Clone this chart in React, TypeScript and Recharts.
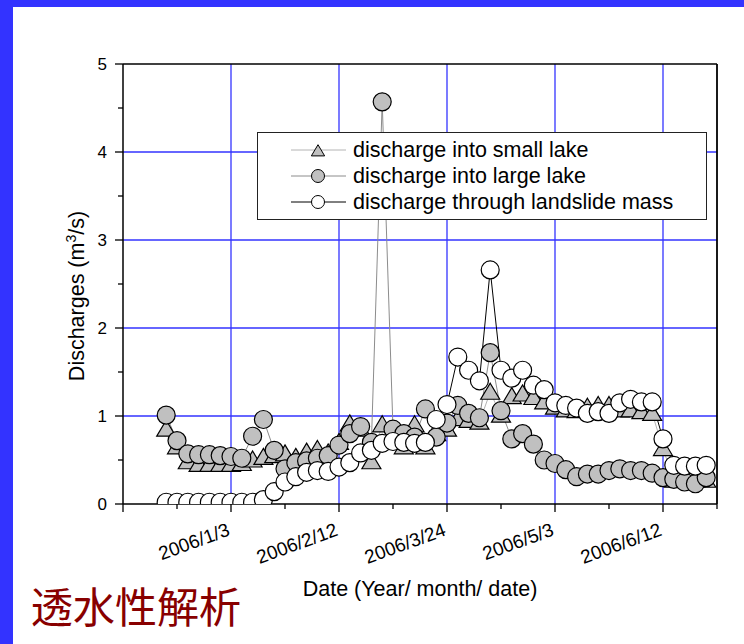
import { LineChart, Line, XAxis, YAxis, ReferenceLine, Legend } from "recharts";

const FONT = '"Liberation Sans", Arial, sans-serif';
const FRAME_BLUE = "#3333ff";
const GRID_BLUE = "#3333ff";
const MARKER_GRAY = "#c0c0c0";

// days counted from 2005/11/24 (x axis origin), one reading every 4 days
const days = [
  16, 20, 24, 28, 32, 36, 40, 44, 48, 52, 56, 60, 64, 68, 72, 76, 80, 84, 88, 92,
  96, 100, 104, 108, 112, 116, 120, 124, 128, 132, 136, 140, 144, 148, 152, 156,
  160, 164, 168, 172, 176, 180, 184, 188, 192, 196, 200, 204, 208, 212, 216,
];

const smallLake = [
  0.85, 0.65, 0.48, 0.45, 0.45, 0.45, 0.45, 0.46, 0.5, 0.53, 0.55, 0.57, 0.53, 0.59, 0.62, 0.58, 0.7, 0.91, 0.85, 0.48,
  0.9, 0.78, 0.65, 0.9, 0.65, 0.8, 0.85, 0.97, 0.95, 0.93, 1.27, 1.01, 1.22, 1.25, 1.21, 1.16,
  1.1, 1.07, 1.06, 1.1, 1.12, 1.12, 1.07, 1.07, 1.05, 1.03, 0.63, 0.27, 0.27, 0.27, 0.27,
];

const largeLake = [
  1.01, 0.72, 0.57, 0.56, 0.56, 0.55, 0.54, 0.52, 0.77, 0.96, 0.61, 0.4, 0.47, 0.49, 0.52, 0.55, 0.67, 0.8, 0.88, 0.7,
  4.57, 0.85, 0.8, 0.76, 1.08, 0.76, 0.92, 1.12, 1.03, 0.98, 1.72, 1.06, 0.74, 0.8, 0.68, 0.5,
  0.46, 0.39, 0.31, 0.34, 0.34, 0.38, 0.4, 0.38, 0.38, 0.35, 0.3, 0.28, 0.25, 0.23, 0.3,
];

const throughMass = [
  0.02, 0.02, 0.02, 0.02, 0.02, 0.02, 0.02, 0.02, 0.02, 0.05, 0.14, 0.25, 0.31, 0.36, 0.38, 0.37, 0.42, 0.47, 0.58, 0.61,
  0.69, 0.71, 0.7, 0.69, 0.7, 0.96, 1.13, 1.67, 1.52, 1.4, 2.66, 1.52, 1.43, 1.52, 1.35, 1.3,
  1.15, 1.12, 1.09, 1.03, 1.05, 1.03, 1.15, 1.19, 1.16, 1.16, 0.74, 0.44, 0.43, 0.43, 0.44,
];

const xTicks = [0, 20, 40, 60, 80, 100, 120, 140, 160, 180, 200, 220];
const xTickLabels: Record<number, string> = {
  40: "2006/1/3",
  80: "2006/2/12",
  120: "2006/3/24",
  160: "2006/5/3",
  200: "2006/6/12",
};
const xGrid = [40, 80, 120, 160, 200];
const yTicks = [0, 0.5, 1, 1.5, 2, 2.5, 3, 3.5, 4, 4.5, 5];
const yGrid = [1, 2, 3, 4];

const data = days.map((d, i) => ({
  d,
  small: smallLake[i],
  large: largeLake[i],
  mass: throughMass[i],
}));

const series = [
  { key: "small", name: "discharge into small lake", line: "#b4b4b4", shape: "tri", fill: MARKER_GRAY },
  { key: "large", name: "discharge into large lake", line: "#8c8c8c", shape: "circle", fill: MARKER_GRAY },
  { key: "mass", name: "discharge through landslide mass", line: "#000000", shape: "circle", fill: "#ffffff" },
];

function triPoints(cx: number, cy: number, s: number) {
  return `${cx},${cy - 9 * s} ${cx + 9.5 * s},${cy + 7 * s} ${cx - 9.5 * s},${cy + 7 * s}`;
}

const makeDot = (shape: string, fill: string) => (props: any) => {
  const { cx, cy, index } = props;
  if (cx == null || cy == null) return <g key={`e-${index}`} />;
  if (shape === "tri") {
    return <polygon key={`t-${index}`} points={triPoints(cx, cy, 1)} fill={fill} stroke="#000" strokeWidth={1.2} />;
  }
  return <circle key={`c-${index}`} cx={cx} cy={cy} r={9} fill={fill} stroke="#000" strokeWidth={1.2} />;
};

const Y_GAP = 16;
function YTick(props: any) {
  const { x, y, payload } = props;
  const v = payload.value;
  const major = Number.isInteger(v);
  const ax = x + Y_GAP;
  return (
    <g>
      <line x1={ax - (major ? 8 : 5)} x2={ax} y1={y} y2={y} stroke="#000" strokeWidth={1.3} />
      {major && (
        <text x={x} y={y} dy="0.36em" textAnchor="end" fontSize={17} fill="#000">
          {v}
        </text>
      )}
    </g>
  );
}

const X_GAP = 10;
function XTick(props: any) {
  const { x, y, payload } = props;
  const v = payload.value;
  const label = xTickLabels[v];
  const major = v % 40 === 0;
  const ay = y - X_GAP;
  const tx = x;
  const ty = y + 21;
  return (
    <g>
      <line x1={x} x2={x} y1={ay} y2={ay + (major ? 8 : 5)} stroke="#000" strokeWidth={1.3} />
      {label && (
        <text x={tx} y={ty} transform={`rotate(-20 ${tx} ${ty})`} textAnchor="end" fontSize={19} fill="#000">
          {label}
        </text>
      )}
    </g>
  );
}

const XLabel = (props: any) => {
  const vb = props.viewBox || { x: 123, y: 504, width: 594, height: 140 };
  return (
    <text x={vb.x + vb.width / 2} y={vb.y + 92} textAnchor="middle" fontSize={21.5} fill="#000">
      Date (Year/ month/ date)
    </text>
  );
};

const YLabel = (props: any) => {
  const vb = props.viewBox || { x: 0, y: 64, width: 123, height: 440 };
  const x = vb.x + 84;
  const y = vb.y + vb.height / 2 + 12;
  return (
    <text x={x} y={y} transform={`rotate(-90 ${x} ${y})`} textAnchor="middle" fontSize={21.5} fill="#000">
      Discharges (m
      <tspan dy={-8} fontSize={14}>3</tspan>
      <tspan dy={8}>/s)</tspan>
    </text>
  );
};

function LegendBox() {
  return (
    <div
      style={{
        boxSizing: "border-box",
        width: 450,
        height: 88,
        border: "1px solid #222",
        background: "#fff",
        padding: "3.5px 0",
        fontFamily: FONT,
      }}
    >
      {series.map((s) => (
        <div key={s.key} style={{ display: "flex", alignItems: "center", height: 26.3 }}>
          <svg width={95} height={26} style={{ flex: "none" }}>
            <line x1={33} x2={88} y1={13} y2={13} stroke={s.line} strokeWidth={1} />
            {s.shape === "tri" ? (
              <polygon points={triPoints(60, 14, 0.7)} fill={s.fill} stroke="#000" strokeWidth={1} />
            ) : (
              <circle cx={60} cy={13} r={6.5} fill={s.fill} stroke="#000" strokeWidth={1} />
            )}
          </svg>
          <span style={{ fontSize: 21.5, lineHeight: "26px", color: "#000", whiteSpace: "nowrap" }}>{s.name}</span>
        </div>
      ))}
    </div>
  );
}

export default function App() {
  return (
    <div
      style={{
        position: "absolute",
        left: 0,
        top: 0,
        width: 744,
        height: 644,
        background: "#fff",
        overflow: "hidden",
        fontFamily: FONT,
      }}
    >
      <div style={{ position: "absolute", left: 0, top: 0 }}>
        <LineChart
          width={744}
          height={644}
          data={data}
          margin={{ top: 64, right: 27, bottom: 0, left: 0 }}
        >
          {xGrid.map((v) => (
            <ReferenceLine key={`gx${v}`} x={v} stroke={GRID_BLUE} strokeWidth={1.3} zIndex={-50} />
          ))}
          {yGrid.map((v) => (
            <ReferenceLine key={`gy${v}`} y={v} stroke={GRID_BLUE} strokeWidth={1.3} zIndex={-50} />
          ))}
          <ReferenceLine y={5} stroke="#000" strokeWidth={1.5} />
          <ReferenceLine x={220} stroke="#000" strokeWidth={1.8} />
          <XAxis
            dataKey="d"
            type="number"
            domain={[0, 220]}
            ticks={xTicks}
            interval={0}
            allowDataOverflow
            height={140}
            tickSize={0}
            tickMargin={X_GAP}
            tickLine={false}
            axisLine={{ stroke: "#000", strokeWidth: 1.5 }}
            tick={<XTick />}
            label={XLabel}
          />
          <YAxis
            type="number"
            domain={[0, 5]}
            ticks={yTicks}
            interval={0}
            allowDataOverflow
            width={123}
            tickSize={0}
            tickMargin={Y_GAP}
            tickLine={false}
            axisLine={{ stroke: "#000", strokeWidth: 1.5 }}
            tick={<YTick />}
            label={YLabel}
          />
          {series.map((s) => (
            <Line
              key={s.key}
              dataKey={s.key}
              name={s.name}
              type="linear"
              stroke={s.line}
              strokeWidth={1}
              dot={makeDot(s.shape, s.fill)}
              activeDot={false}
              isAnimationActive={false}
            />
          ))}
          <Legend
            layout="vertical"
            align="center"
            verticalAlign="middle"
            content={() => <LegendBox />}
            wrapperStyle={{ left: 257, top: 132, width: 450, height: 88 }}
          />
        </LineChart>
      </div>
      <div style={{ position: "absolute", left: 0, top: 0, width: 744, height: 7, background: FRAME_BLUE }} />
      <div style={{ position: "absolute", left: 0, top: 0, width: 13, height: 644, background: FRAME_BLUE }} />
      <div
        style={{
          position: "absolute",
          left: 31,
          top: 584,
          fontFamily: '"Noto Sans CJK JP", "Noto Sans CJK SC", sans-serif',
          fontSize: 42,
          lineHeight: 1,
          color: "#880000",
          whiteSpace: "nowrap",
        }}
      >
        透水性解析
      </div>
    </div>
  );
}
